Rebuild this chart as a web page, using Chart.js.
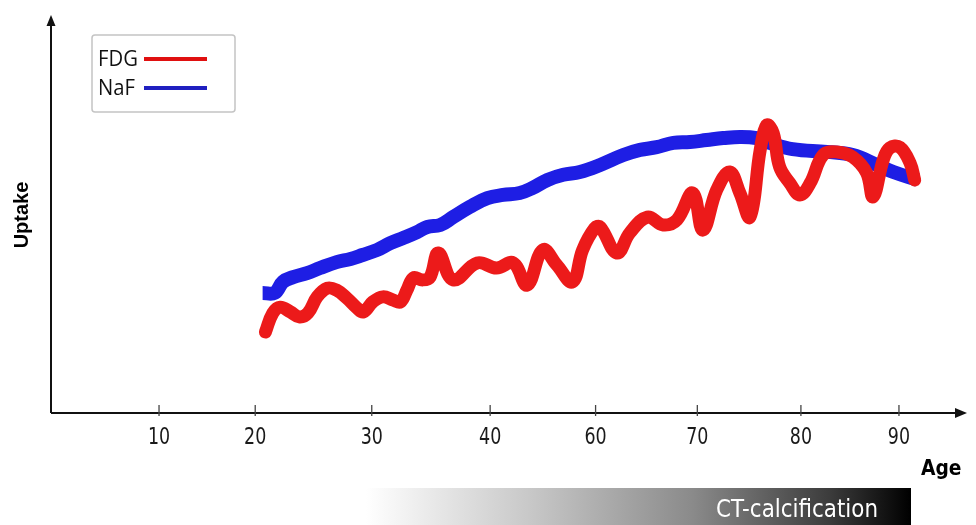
<!DOCTYPE html>
<html>
<head>
<meta charset="utf-8">
<script src="https://cdn.jsdelivr.net/npm/chart.js@4"></script>
<style>
  html, body { margin: 0; padding: 0; background: #fff; }
  #wrap { width: 976px; height: 525px; }
</style>
</head>
<body>
<div id="wrap"><canvas id="uptakeChart" width="976" height="525"></canvas></div>
<script>
// x axis is hand drawn: labels are not evenly spaced in age, so each label has its own position
const tickPos = [10, 20.4, 33.0, 45.8, 57.2, 68.2, 79.4, 90];
const tickLabels = ['10', '20', '30', '40', '60', '70', '80', '90'];

const fdgAge = [21.5, 22.3, 23.1, 24.2, 25.2, 26.1, 27.1, 28.2, 29.2, 30.3, 31.4, 32.1, 33.1, 34.2, 35.3, 36.1,
    36.8, 37.5, 38.5, 39.3, 40.2, 41.8, 44.4, 46.5, 48.3, 49.8, 51.5, 53.0, 54.7, 55.8, 57.1, 57.7, 59.5, 60.9,
    62.8, 64.5, 66.0, 67.7, 68.8, 70.3, 71.7, 72.8, 73.9, 75.0, 75.7, 76.4, 77.1, 78.2, 79.3, 80.4, 81.8, 83.3,
    85.0, 86.5, 87.2, 88.3, 89.0, 90.1, 91.2, 91.7];
const fdgUptake = [20.5, 25.3, 26.8, 25.6, 24.3, 25.3, 29.4, 31.6, 31.1, 29.1, 26.6, 25.6, 28.1, 29.4, 28.6, 28.1,
    31.1, 34.2, 33.7, 34.4, 40.5, 33.7, 38.0, 36.7, 38.0, 32.4, 41.3, 37.5, 33.2, 41.3, 46.8, 47.1, 40.5, 45.6,
    49.6, 47.6, 48.9, 55.7, 46.3, 56.5, 61.0, 55.7, 49.6, 66.6, 72.9, 70.9, 62.3, 58.2, 55.2, 58.2, 65.3, 66.1,
    64.8, 60.8, 54.7, 64.1, 67.1, 67.3, 63.3, 59.0];

const nafAge = [21.2, 22.5, 23.4, 24.5, 26.0, 27.4, 29.2, 30.7, 32.0, 33.6, 35.0, 36.4, 37.9, 39.0, 40.4, 41.8,
    43.6, 45.5, 47.2, 49.0, 50.4, 52.0, 53.7, 55.5, 57.7, 60.2, 62.0, 63.8, 65.6, 67.4, 69.2, 71.0, 72.8, 74.6,
    76.0, 78.5, 82.2, 85.0, 87.6, 89.4, 92.0];
const nafUptake = [30.4, 30.4, 33.2, 34.4, 35.4, 36.7, 38.2, 39.0, 40.0, 41.3, 43.0, 44.3, 45.8, 47.1, 47.6, 49.6,
    52.2, 54.4, 55.2, 55.7, 57.0, 59.0, 60.3, 61.0, 62.8, 65.3, 66.6, 67.3, 68.4, 68.6, 69.1, 69.6, 69.9, 69.6,
    68.4, 66.8, 66.1, 65.3, 62.8, 61.0, 59.0];

const seriesNames = ['FDG', 'NaF'];
const seriesColors = ['#ec1a1a', '#1e1ee4'];

function toPoints(xs, ys) {
    return xs.map(function (x, i) { return { x: x, y: ys[i] }; });
}

const sans = '"DejaVu Sans", sans-serif';

// draws text squeezed horizontally, the reference uses a condensed face
function narrowText(ctx, text, x, y, sx) {
    ctx.save();
    ctx.translate(x, y);
    ctx.scale(sx, 1);
    ctx.fillText(text, 0, 0);
    ctx.restore();
}

const drawAxes = {
    id: 'drawAxes',
    beforeDatasetsDraw: function (chart) {
        const ctx = chart.ctx;
        const xs = chart.scales.x;
        const area = chart.chartArea;
        const x0 = area.left, y0 = area.bottom;

        ctx.save();
        ctx.strokeStyle = '#111';
        ctx.fillStyle = '#111';
        ctx.lineWidth = 2;

        // y axis with arrow
        ctx.beginPath();
        ctx.moveTo(x0, y0);
        ctx.lineTo(x0, area.top + 6);
        ctx.stroke();
        ctx.beginPath();
        ctx.moveTo(x0, area.top - 3);
        ctx.lineTo(x0 - 4.5, area.top + 8);
        ctx.lineTo(x0 + 4.5, area.top + 8);
        ctx.closePath();
        ctx.fill();

        // x axis with arrow
        ctx.beginPath();
        ctx.moveTo(x0, y0);
        ctx.lineTo(area.right - 2, y0);
        ctx.stroke();
        ctx.beginPath();
        ctx.moveTo(area.right + 7, y0);
        ctx.lineTo(area.right - 5, y0 - 5);
        ctx.lineTo(area.right - 5, y0 + 5);
        ctx.closePath();
        ctx.fill();

        // ticks and labels
        ctx.lineWidth = 1.3;
        ctx.strokeStyle = '#444';
        ctx.fillStyle = '#1a1a1a';
        ctx.font = '23px ' + sans;
        ctx.textAlign = 'center';
        ctx.textBaseline = 'middle';
        tickPos.forEach(function (v, i) {
            const px = xs.getPixelForValue(v);
            ctx.beginPath();
            ctx.moveTo(px, y0 - 8);
            ctx.lineTo(px, y0 + 3);
            ctx.stroke();
            narrowText(ctx, tickLabels[i], px, y0 + 25, 0.76);
        });

        // axis titles
        ctx.fillStyle = '#000';
        ctx.font = 'bold 22px ' + sans;
        ctx.textAlign = 'left';
        ctx.textBaseline = 'alphabetic';
        narrowText(ctx, 'Age', 921, 475, 0.85);

        ctx.save();
        ctx.translate(28, 215);
        ctx.rotate(-Math.PI / 2);
        ctx.font = 'bold 20px "Liberation Sans", Arial, sans-serif';
        ctx.textAlign = 'center';
        ctx.fillText('Uptake', 0, 0);
        ctx.restore();

        ctx.restore();
    },
    afterDraw: function (chart) {
        const ctx = chart.ctx;
        ctx.save();

        // legend
        ctx.strokeStyle = '#c4c4c4';
        ctx.lineWidth = 1.5;
        ctx.beginPath();
        ctx.roundRect(92, 35, 143, 77, 3);
        ctx.stroke();
        ctx.font = '22px "Open Sans", sans-serif';
        ctx.textBaseline = 'middle';
        ctx.textAlign = 'left';
        seriesNames.forEach(function (name, i) {
            const y = 60 + i * 29;
            ctx.fillStyle = '#111';
            narrowText(ctx, name, 98, y, 0.92);
            ctx.strokeStyle = i === 0 ? '#e01010' : '#2020c0';
            ctx.lineWidth = 4;
            ctx.beginPath();
            ctx.moveTo(144, y - 1);
            ctx.lineTo(207, y - 1);
            ctx.stroke();
        });

        // CT-calcification gradient bar
        const gx0 = 366, gx1 = 911;
        const grad = ctx.createLinearGradient(gx0, 0, gx1, 0);
        grad.addColorStop(0, '#ffffff');
        grad.addColorStop(0.3, '#c8c8c8');
        grad.addColorStop(0.6, '#8a8a8a');
        grad.addColorStop(0.85, '#3c3c3c');
        grad.addColorStop(1, '#000000');
        ctx.fillStyle = grad;
        ctx.fillRect(gx0, 488, gx1 - gx0, 37);
        ctx.fillStyle = '#fff';
        ctx.font = '25px ' + sans;
        ctx.textAlign = 'left';
        ctx.textBaseline = 'alphabetic';
        const w = ctx.measureText('CT-calcification').width;
        narrowText(ctx, 'CT-calcification', 716, 517, 162 / w);

        ctx.restore();
    }
};

const ctx = document.getElementById('uptakeChart').getContext('2d');
const uptakeChart = new Chart(ctx, {
    type: 'line',
    data: {
        datasets: [
            {
                label: seriesNames[0],
                data: toPoints(fdgAge, fdgUptake),
                borderColor: seriesColors[0],
                borderWidth: 13,
                tension: 0.4,
                pointRadius: 0,
                borderCapStyle: 'round',
                borderJoinStyle: 'round',
                clip: false
            },
            {
                label: seriesNames[1],
                data: toPoints(nafAge, nafUptake),
                borderColor: seriesColors[1],
                borderWidth: 14,
                tension: 0.4,
                pointRadius: 0,
                borderCapStyle: 'butt',
                borderJoinStyle: 'round',
                clip: false
            }
        ]
    },
    options: {
        responsive: false,
        animation: false,
        events: [],
        layout: { padding: { left: 51, right: 16, top: 18, bottom: 112 } },
        scales: {
            x: { type: 'linear', min: -1.68, max: 96.6, display: false },
            y: { min: 0, max: 100, display: false }
        },
        plugins: {
            legend: { display: false },
            tooltip: { enabled: false }
        }
    },
    plugins: [drawAxes]
});
</script>
</body>
</html>
